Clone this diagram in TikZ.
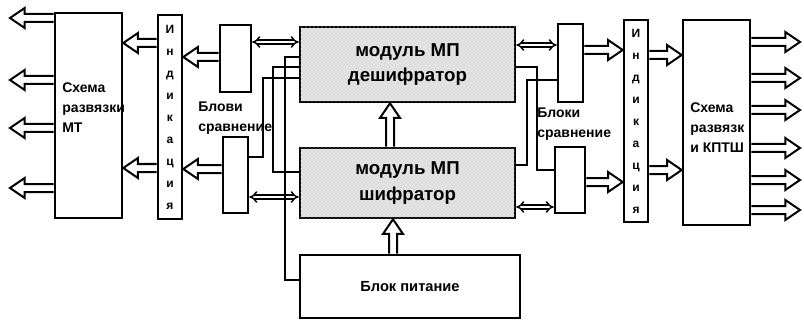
\documentclass[tikz,border=0pt]{standalone}
\usepackage{fontspec}
\setmainfont{Liberation Sans}
\usepackage{tikz}
\usetikzlibrary{arrows.meta, patterns, calc}

\begin{document}
\begin{tikzpicture}[
  x=0.75pt, y=-0.75pt,
  box/.style={draw, line width=1.9pt, inner sep=0pt},
  module/.style={box, fill=gray!20, postaction={pattern=crosshatch dots, pattern color=gray!50},
                 font=\bfseries\fontsize{14}{19}\selectfont, align=center},
  indbox/.style={box, font=\bfseries\fontsize{9}{16.5}\selectfont, align=center},
  lbl/.style={font=\bfseries\fontsize{10.5}{15}\selectfont, align=left, inner sep=0pt},
  wire/.style={line width=1.8pt},
  bigarr/.style={line width=1.5pt, line join=miter, to path={
      ($(\tikztostart)!3pt!90:(\tikztotarget)$)
      -- ($(\tikztotarget)!11pt!(\tikztostart)!3pt!-90:(\tikztostart)$)
      -- ($(\tikztotarget)!11pt!(\tikztostart)!7.5pt!-90:(\tikztostart)$)
      -- (\tikztotarget)
      -- ($(\tikztotarget)!11pt!(\tikztostart)!7.5pt!90:(\tikztostart)$)
      -- ($(\tikztotarget)!11pt!(\tikztostart)!3pt!90:(\tikztostart)$)
      -- ($(\tikztostart)!3pt!-90:(\tikztotarget)$)}},
  dlink/.style={double, double distance=1.8pt, line width=1.1pt, {Implies[length=5pt, width=8pt]}-{Implies[length=5pt, width=8pt]}},
]
  \useasboundingbox (0,0) rectangle (804,321);

  % left side
  \node[box, minimum width=50.25pt, minimum height=153.75pt] (schemaL) at (88.5,115.5) {};
  \node[lbl, anchor=west] (schemaLtxt) at (62,108) {Схема\\развязки\\МТ};
  \node[indbox, minimum width=18pt, minimum height=153pt] (indL) at (170,117) {И\\н\\д\\и\\к\\а\\ц\\и\\я};
  \node[box, minimum width=23.25pt, minimum height=50.25pt] (cmpLt) at (235.5,58.5) {};
  \node[box, minimum width=18.75pt, minimum height=57pt] (cmpLb) at (235.5,175) {};
  \node[lbl, anchor=west] (cmpLlbl) at (198,118) {Блови\\сравнение};

  % modules
  \node[module, minimum width=161.25pt, minimum height=56.25pt] (dec) at (407.5,64.5) {модуль МП\\дешифратор};
  \node[module, minimum width=161.25pt, minimum height=52.5pt] (shif) at (407.5,183) {модуль МП\\шифратор};
  \node[box, minimum width=165pt, minimum height=47.25pt, font=\bfseries\fontsize{11}{13}\selectfont] (power) at (410,286.5) {Блок питание};

  % right side
  \node[box, minimum width=18.75pt, minimum height=58.5pt] (cmpRt) at (570.5,63) {};
  \node[box, minimum width=22.5pt, minimum height=49.5pt] (cmpRb) at (570,180) {};
  \node[lbl, anchor=west] (cmpRlbl) at (537,124) {Блоки\\сравнение};
  \node[indbox, minimum width=18pt, minimum height=151.5pt] (indR) at (636,121) {И\\н\\д\\и\\к\\а\\ц\\и\\я};
  \node[box, minimum width=50.25pt, minimum height=153.75pt] (schemaR) at (716.5,122.5) {};
  \node[lbl, anchor=west] (schemaRtxt) at (690,128) {Схема\\развязк\\и КПТШ};

  % outputs
  \coordinate (outL1) at (10,18);
  \coordinate (outL2) at (10,80);
  \coordinate (outL3) at (10,128);
  \coordinate (outL4) at (10,188);
  \coordinate (outR1) at (800,42);
  \coordinate (outR2) at (800,78);
  \coordinate (outR3) at (800,110);
  \coordinate (outR4) at (800,148);
  \coordinate (outR5) at (800,180);
  \coordinate (outR6) at (800,210);

  \draw[bigarr] (schemaL.west |- outL1) to (outL1);
  \draw[bigarr] (schemaL.west |- outL2) to (outL2);
  \draw[bigarr] (schemaL.west |- outL3) to (outL3);
  \draw[bigarr] (schemaL.west |- outL4) to (outL4);
  \draw[bigarr] (indL.west |- 0,43) to (schemaL.east |- 0,43);
  \draw[bigarr] (indL.west |- 0,168) to (schemaL.east |- 0,168);
  \draw[bigarr] (cmpLt.west |- 0,57) to (indL.east |- 0,57);
  \draw[bigarr] (cmpLb.west |- 0,169) to (indL.east |- 0,169);

  \draw[bigarr] (cmpRt.east |- 0,50) to (indR.west |- 0,50);
  \draw[bigarr] (cmpRb.east |- 0,182) to (indR.west |- 0,182);
  \draw[bigarr] (indR.east |- 0,55) to (schemaR.west |- 0,55);
  \draw[bigarr] (indR.east |- 0,170) to (schemaR.west |- 0,170);
  \draw[bigarr] (schemaR.east |- outR1) to (outR1);
  \draw[bigarr] (schemaR.east |- outR2) to (outR2);
  \draw[bigarr] (schemaR.east |- outR3) to (outR3);
  \draw[bigarr] (schemaR.east |- outR4) to (outR4);
  \draw[bigarr] (schemaR.east |- outR5) to (outR5);
  \draw[bigarr] (schemaR.east |- outR6) to (outR6);

  \draw[bigarr] (shif.north -| 390,0) to (dec.south -| 390,0);
  \draw[bigarr] (power.north -| 393,0) to (shif.south -| 393,0);

  % links to the modules
  \draw[dlink] (cmpLt.east |- 0,42) -- (dec.west |- 0,42);
  \draw[dlink] (cmpLb.east |- 0,197) -- (shif.west |- 0,197);
  \draw[dlink] (dec.east |- 0,45) -- (cmpRt.west |- 0,45);
  \draw[dlink] (shif.east |- 0,207) -- (cmpRb.west |- 0,207);

  \draw[wire] (cmpLb.east |- 0,157) -| (263,78) -- (dec.west |- 0,78);
  \draw[wire] (shif.west |- 0,172) -| (273,67) -- (dec.west |- 0,67);
  \draw[wire] (power.west |- 0,280) -| (285,57) -- (dec.west |- 0,57);
  \draw[wire] (dec.east |- 0,67) -| (537,170) -- (cmpRb.west |- 0,170);
  \draw[wire] (shif.east |- 0,165) -| (527,80) -- (cmpRt.west |- 0,80);
\end{tikzpicture}
\end{document}
